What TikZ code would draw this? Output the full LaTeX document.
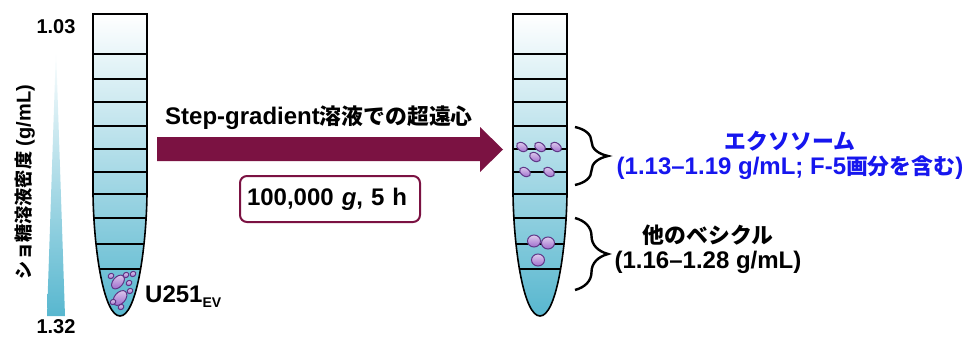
\documentclass[tikz,border=0pt]{standalone}
\usepackage{fontspec}
\setmainfont{Liberation Sans}
\newfontfamily\jp{Noto Sans CJK JP}[Scale=0.91]
\usetikzlibrary{shapes.geometric,decorations.pathreplacing}

\definecolor{sucrose}{RGB}{88,183,207}
\definecolor{spin}{RGB}{123,18,66}
\definecolor{exoblue}{RGB}{22,22,238}
\definecolor{vesfill}{RGB}{160,110,205}
\definecolor{vesline}{RGB}{95,55,135}

% outline of one centrifuge tube, axis at x=0
\def\tubepath{(-27,14) -- (27,14) -- (27,195)
  .. controls (26,252) and (16,316) .. (0,316)
  .. controls (-16,316) and (-26,252) .. (-27,195) -- cycle}

\begin{document}
\begin{tikzpicture}[x=1pt,y=-1pt,
    big/.style={font=\fontsize{24}{25}\selectfont\bfseries, inner sep=1pt},
    scalelbl/.style={font=\fontsize{20}{22}\selectfont\bfseries, inner sep=1pt},
    condbox/.style={big, draw=spin, line width=2pt, rounded corners=7pt,
      text width=166pt, inner xsep=7pt, align=left, minimum height=46pt},
    ves/.style={ellipse, draw=vesline, line width=1pt, inner sep=0pt,
      top color=vesfill!35!white, bottom color=vesfill},
    brace/.style={decorate, decoration={brace, amplitude=33pt}, line width=2.4pt},
    divider/.style={line width=1.3pt}]
  \useasboundingbox (0,0) rectangle (966,338);

  % density scale
  \shade[top color=white, bottom color=sucrose] (56,48) -- (65,316) -- (47,316) -- cycle;
  \node[scalelbl] (dtop) at (56,27) {1.03};
  \node[scalelbl, inner sep=0pt] (dbot) at (56,327) {1.32};
  \node[scalelbl, rotate=90] (daxis) at (25,182) {{\jp ショ糖溶液密度} (g/mL)};

  % the two tubes
  \foreach \cx in {120,540} {
    \begin{scope}[xshift=\cx pt]
      \shade[top color=white, bottom color=sucrose] \tubepath;
      \begin{scope}
        \clip \tubepath;
        \foreach \y in {54,79,102,126,149,172,194,218,244,269}
          \draw[divider] (-30,\y) -- (30,\y);
      \end{scope}
      \draw[line width=1.6pt] \tubepath;
    \end{scope}
  }

  % loaded sample at the bottom
  \node[ves, minimum width=16pt, minimum height=10pt, rotate=50] (s1) at (118,282) {};
  \node[ves, minimum width=17pt, minimum height=11pt, rotate=50] (s2) at (120,298) {};
  \foreach \x/\y [count=\i from 3] in {111/276,126/275,133/274,129/283,130/291,113/302,121/307}
    \node[ves, minimum width=6pt, minimum height=5pt, rotate=30] (s\i) at (\x,\y) {};
  \node[big, anchor=base west] (sample) at (144,302)
    {U251\raisebox{-5pt}{\fontsize{14}{14}\selectfont EV}};

  % spin step
  \fill[spin] (157,137) -- (480,137) -- (480,127) -- (503,149.5)
    -- (480,172) -- (480,161) -- (157,161) -- cycle;
  \node[big] (method) at (319,118) {Step-gradient{\jp 溶液での超遠心}};
  \node[condbox] (cond) at (330,199) {100,000 {\itshape g}, 5 h};

  % fractions after the spin
  \foreach \x/\y [count=\i] in {522/147,540/147,556/147,535/157,525/172,549/172}
    \node[ves, minimum width=12pt, minimum height=8pt, rotate=-35] (e\i) at (\x,\y) {};
  \foreach \x/\y [count=\i] in {534/241,548/243,538/260}
    \node[ves, minimum width=13pt, minimum height=12pt] (o\i) at (\x,\y) {};

  \coordinate (exotop) at (575,127);
  \coordinate (exobot) at (575,185);
  \coordinate (othtop) at (575,218);
  \coordinate (othbot) at (575,290);
  \draw[brace] (exotop) -- (exobot);
  \draw[brace] (othtop) -- (othbot);

  \node[big, exoblue, align=center] (exo) at (790,155)
    {{\jp エクソソーム}\\(1.13–1.19 g/mL; F-5{\jp 画分を含む})};
  \node[big, align=center] (other) at (708,249)
    {{\jp 他のベシクル}\\(1.16–1.28 g/mL)};
\end{tikzpicture}
\end{document}
